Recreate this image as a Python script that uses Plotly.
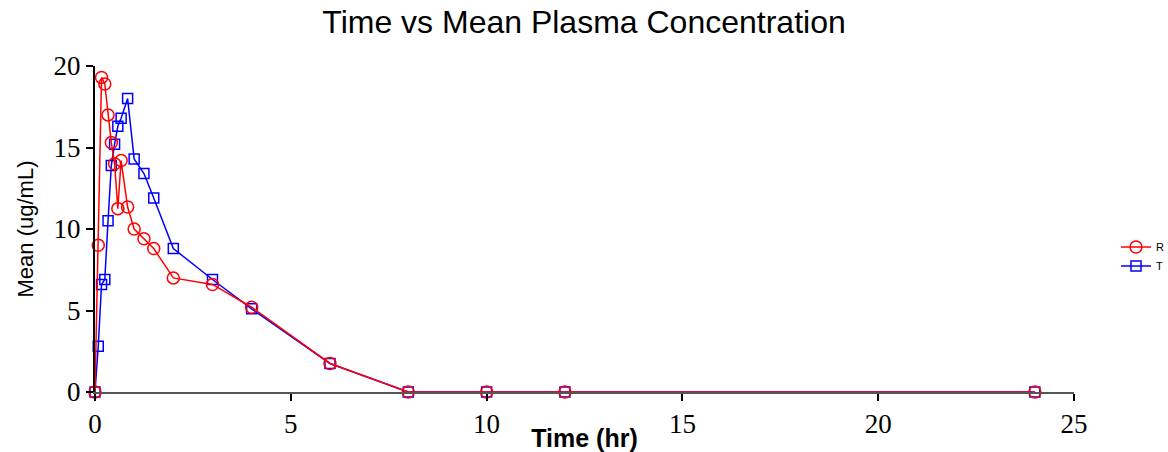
import plotly.graph_objects as go

# Data
time_hr = [0, 0.083, 0.167, 0.25, 0.333, 0.417, 0.5, 0.583, 0.667, 0.833, 1, 1.25, 1.5, 2, 3, 4, 6, 8, 10, 12, 24]
mean_R = [0, 9.0, 19.3, 18.9, 17.0, 15.3, 14.0, 11.25, 14.2, 11.35, 10.0, 9.4, 8.8, 7.0, 6.6, 5.2, 1.75, 0, 0, 0, 0]
mean_T = [0, 2.8, 6.6, 6.9, 10.5, 13.9, 15.2, 16.3, 16.8, 18.0, 14.3, 13.4, 11.9, 8.8, 6.9, 5.1, 1.75, 0, 0, 0, 0]
x_ticks = [0, 5, 10, 15, 20, 25]
y_ticks = [0, 5, 10, 15, 20]

fig = go.Figure()
fig.add_trace(go.Scatter(
    x=time_hr, y=mean_T, name="T", mode="lines+markers",
    line=dict(color="#0000ff", width=1.5),
    marker=dict(symbol="square-open", size=10, color="#0000ff", line=dict(width=1.5)),
    cliponaxis=False, legendrank=2,
))
fig.add_trace(go.Scatter(
    x=time_hr, y=mean_R, name="R", mode="lines+markers",
    line=dict(color="#ff0000", width=1.5),
    marker=dict(symbol="circle-open", size=12, color="#ff0000", line=dict(width=1.5)),
    cliponaxis=False, legendrank=1,
))

serif = "Liberation Serif, Times New Roman, serif"
sans = "Liberation Sans, Arial, sans-serif"

fig.update_layout(
    width=1168, height=452,
    margin=dict(l=95, r=94, t=66, b=60),
    paper_bgcolor="white", plot_bgcolor="white",
    title=dict(text="Time vs Mean Plasma Concentration", x=0.5, xanchor="center",
               y=1 - 22 / 452, yanchor="middle", yref="container",
               font=dict(family=sans, size=32, color="black")),
    showlegend=True,
    legend=dict(xref="container", yref="container", x=1116 / 1168, xanchor="left",
                y=1 - 256.5 / 452, yanchor="middle",
                font=dict(family=sans, size=11, color="black"),
                bgcolor="rgba(0,0,0,0)", tracegroupgap=0),
    xaxis=dict(range=[0, 25], tickvals=x_ticks, ticktext=[str(v) for v in x_ticks],
               automargin=False,
               showgrid=False, zeroline=False, showline=True, linecolor="#555555", linewidth=1.5,
               ticks="outside", ticklen=7, tickcolor="black", tickwidth=1.5,
               tickfont=dict(family=serif, size=27, color="black"),
               title=dict(text="<b>Time (hr)</b>", font=dict(family=sans, size=25, color="black"), standoff=4)),
    yaxis=dict(range=[0, 20], tickvals=y_ticks, ticktext=[str(v) for v in y_ticks],
               automargin=False,
               showgrid=False, zeroline=False, showline=True, linecolor="black", linewidth=2,
               ticks="outside", ticklen=7, tickcolor="black", tickwidth=1.5,
               tickfont=dict(family=serif, size=27, color="black"),
               title=dict(text="Mean (ug/mL)", font=dict(family=sans, size=22, color="black"), standoff=14)),
)

fig.write_html("out.html")
